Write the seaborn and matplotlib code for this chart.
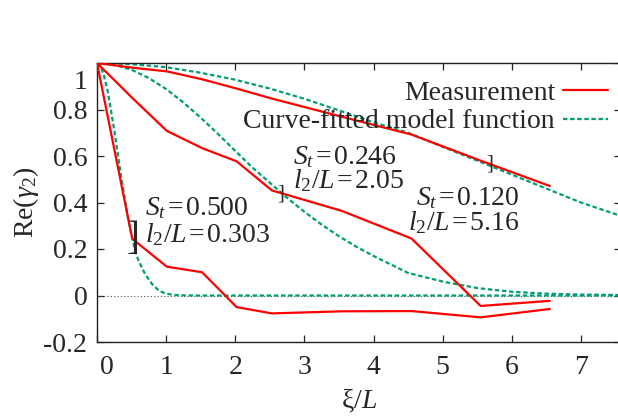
import matplotlib
matplotlib.use("Agg")
import matplotlib.pyplot as plt
import matplotlib.transforms as mtransforms
import seaborn as sns

# measured points (xi/L) and Re(gamma_2) for the three cases
meas_x = [0, 0.51, 1.01, 1.52, 2.02, 2.53, 3.54, 4.55, 5.55, 6.55]
meas_s500 = [1.0, 0.244, 0.124, 0.10, -0.05, -0.077, -0.068, -0.067, -0.094, -0.058]
meas_s246 = [1.0, 0.85, 0.708, 0.634, 0.577, 0.452, 0.364, 0.245, -0.045, -0.023]
meas_s120 = [1.0, 0.98, 0.964, 0.93, 0.89, 0.847, 0.769, 0.692, 0.58, 0.471]

# fitted model curves
fit_x_500 = [0, 0.05, 0.1, 0.15, 0.2, 0.25, 0.3, 0.35, 0.4, 0.45, 0.5, 0.55,
             0.6, 0.7, 0.8, 0.9, 1.0, 1.1, 1.2, 1.4, 7.6]
fit_y_500 = [1.0, 0.987, 0.947, 0.885, 0.80, 0.71, 0.61, 0.51, 0.42, 0.33, 0.26, 0.195,
             0.15, 0.09, 0.048, 0.02, 0.008, 0.003, 0.001, 0.0, 0.0]
fit_x_246 = [0, 0.25, 0.5, 0.75, 1.0, 1.25, 1.5, 1.75, 2.0, 2.25, 2.5, 2.75, 3.0,
             3.25, 3.5, 3.75, 4.0, 4.5, 5.0, 5.5, 6.0, 6.5, 7.0, 7.6]
fit_y_246 = [1.0, 0.993, 0.971, 0.935, 0.888, 0.83, 0.765, 0.695, 0.622, 0.55, 0.485,
             0.42, 0.36, 0.305, 0.255, 0.21, 0.17, 0.097, 0.06, 0.032, 0.016, 0.008,
             0.004, 0.002]
fit_x_120 = [0, 0.5, 1.0, 1.5, 2.0, 2.5, 3.0, 3.5, 4.0, 4.5, 5.0, 5.5, 6.0, 6.5, 7.0, 7.6]
fit_y_120 = [1.0, 0.995, 0.982, 0.958, 0.928, 0.89, 0.846, 0.796, 0.745, 0.70, 0.64,
             0.58, 0.52, 0.46, 0.40, 0.34]

labels_st = ["0.500", "0.246", "0.120"]
labels_l2 = ["0.303", "2.05", "5.16"]

x_ticks = [0, 1, 2, 3, 4, 5, 6, 7]
y_ticks = [-0.2, 0, 0.2, 0.4, 0.6, 0.8, 1]
y_ticklabels = ["-0.2", "0", "0.2", "0.4", "0.6", "0.8", "1"]

RED = "#ff0000"
GREEN = "#009e73"

sns.set_theme(style="ticks")
plt.rcParams["font.family"] = ["Liberation Serif", "DejaVu Serif"]
plt.rcParams["mathtext.fontset"] = "custom"
plt.rcParams["mathtext.rm"] = "Liberation Serif"
plt.rcParams["mathtext.it"] = "Liberation Serif:italic"

fig = plt.figure(figsize=(6.18, 4.2), dpi=100)
ax = fig.add_axes([97 / 618, 1 - 342 / 420, 524 / 618, 279 / 420])

ax.axhline(0, color="#555555", lw=0.8, ls=(0, (1, 2)), zorder=1)

dash = (0, (2.0, 1.2))
for i, (fx, fy) in enumerate([(fit_x_500, fit_y_500), (fit_x_246, fit_y_246),
                              (fit_x_120, fit_y_120)]):
    sns.lineplot(x=fx, y=fy, ax=ax, color=GREEN, lw=1.6, linestyle=dash,
                 errorbar=None, zorder=2,
                 label="Curve-fitted model function" if i == 0 else None)

for i, my in enumerate([meas_s500, meas_s246, meas_s120]):
    sns.lineplot(x=meas_x, y=my, ax=ax, color=RED, lw=1.6, errorbar=None, zorder=3,
                 label="Measurement" if i == 0 else None)

ax.set_xlim(0, 7.58)
ax.set_ylim(-0.2, 1.0)
ax.set_xticks(x_ticks)
ax.set_xticklabels([str(t) for t in x_ticks])
ax.set_yticks(y_ticks)
ax.set_yticklabels(y_ticklabels)
ax.tick_params(direction="in", length=5, width=0.9, labelsize=20, color="#222222",
               top=True, right=True, pad=7)
ax.tick_params(axis="x", pad=9)
for s in ax.spines.values():
    s.set_linewidth(1.0)
    s.set_color("#222222")

ax.set_xlabel(r"ξ/$L$", fontsize=20, labelpad=6)
ax.set_ylabel(r"Re($\gamma_2$)", fontsize=20, labelpad=2)

# gnuplot style: corner labels nudged away from the origin/top
lbl = ax.get_xticklabels()[0]
lbl.set_transform(lbl.get_transform() + mtransforms.ScaledTranslation(7 / 72, 0, fig.dpi_scale_trans))
lbl = ax.get_yticklabels()[-1]
lbl.set_transform(lbl.get_transform() + mtransforms.ScaledTranslation(0, -12 / 72, fig.dpi_scale_trans))

# parameter annotations
st_fmt = "$S_t$\u200a=\u200a%s"
l2_fmt = "$l_2/L$\u200a=\u200a%s"
ax.text(0.69, 0.347, st_fmt % labels_st[0], fontsize=20, ha="left", va="baseline")
ax.text(0.69, 0.231, l2_fmt % labels_l2[0], fontsize=20, ha="left", va="baseline")
ax.text(2.84, 0.566, st_fmt % labels_st[1], fontsize=20, ha="left", va="baseline")
ax.text(2.84, 0.461, l2_fmt % labels_l2[1], fontsize=20, ha="left", va="baseline")
ax.text(6.11, 0.39, st_fmt % labels_st[2], fontsize=20, ha="right", va="baseline")
ax.text(6.11, 0.282, l2_fmt % labels_l2[2], fontsize=20, ha="right", va="baseline")

# small brackets where fit meets data
ax.text(0.52, 0.24, "]", fontsize=28, ha="center", va="center", fontweight="light")
ax.text(2.66, 0.435, "]", fontsize=15, ha="center", va="center")
ax.text(5.68, 0.565, "]", fontsize=15, ha="center", va="center")

handles, labels = ax.get_legend_handles_labels()
order = [labels.index("Measurement"), labels.index("Curve-fitted model function")]
ax.legend([handles[k] for k in order], [labels[k] for k in order],
          loc="upper right", bbox_to_anchor=(0.996, 0.978), frameon=False,
          markerfirst=False, fontsize=20, handlelength=1.6, handletextpad=0.3,
          labelspacing=0.12, borderaxespad=0)

fig.savefig("out.png", dpi=100)
